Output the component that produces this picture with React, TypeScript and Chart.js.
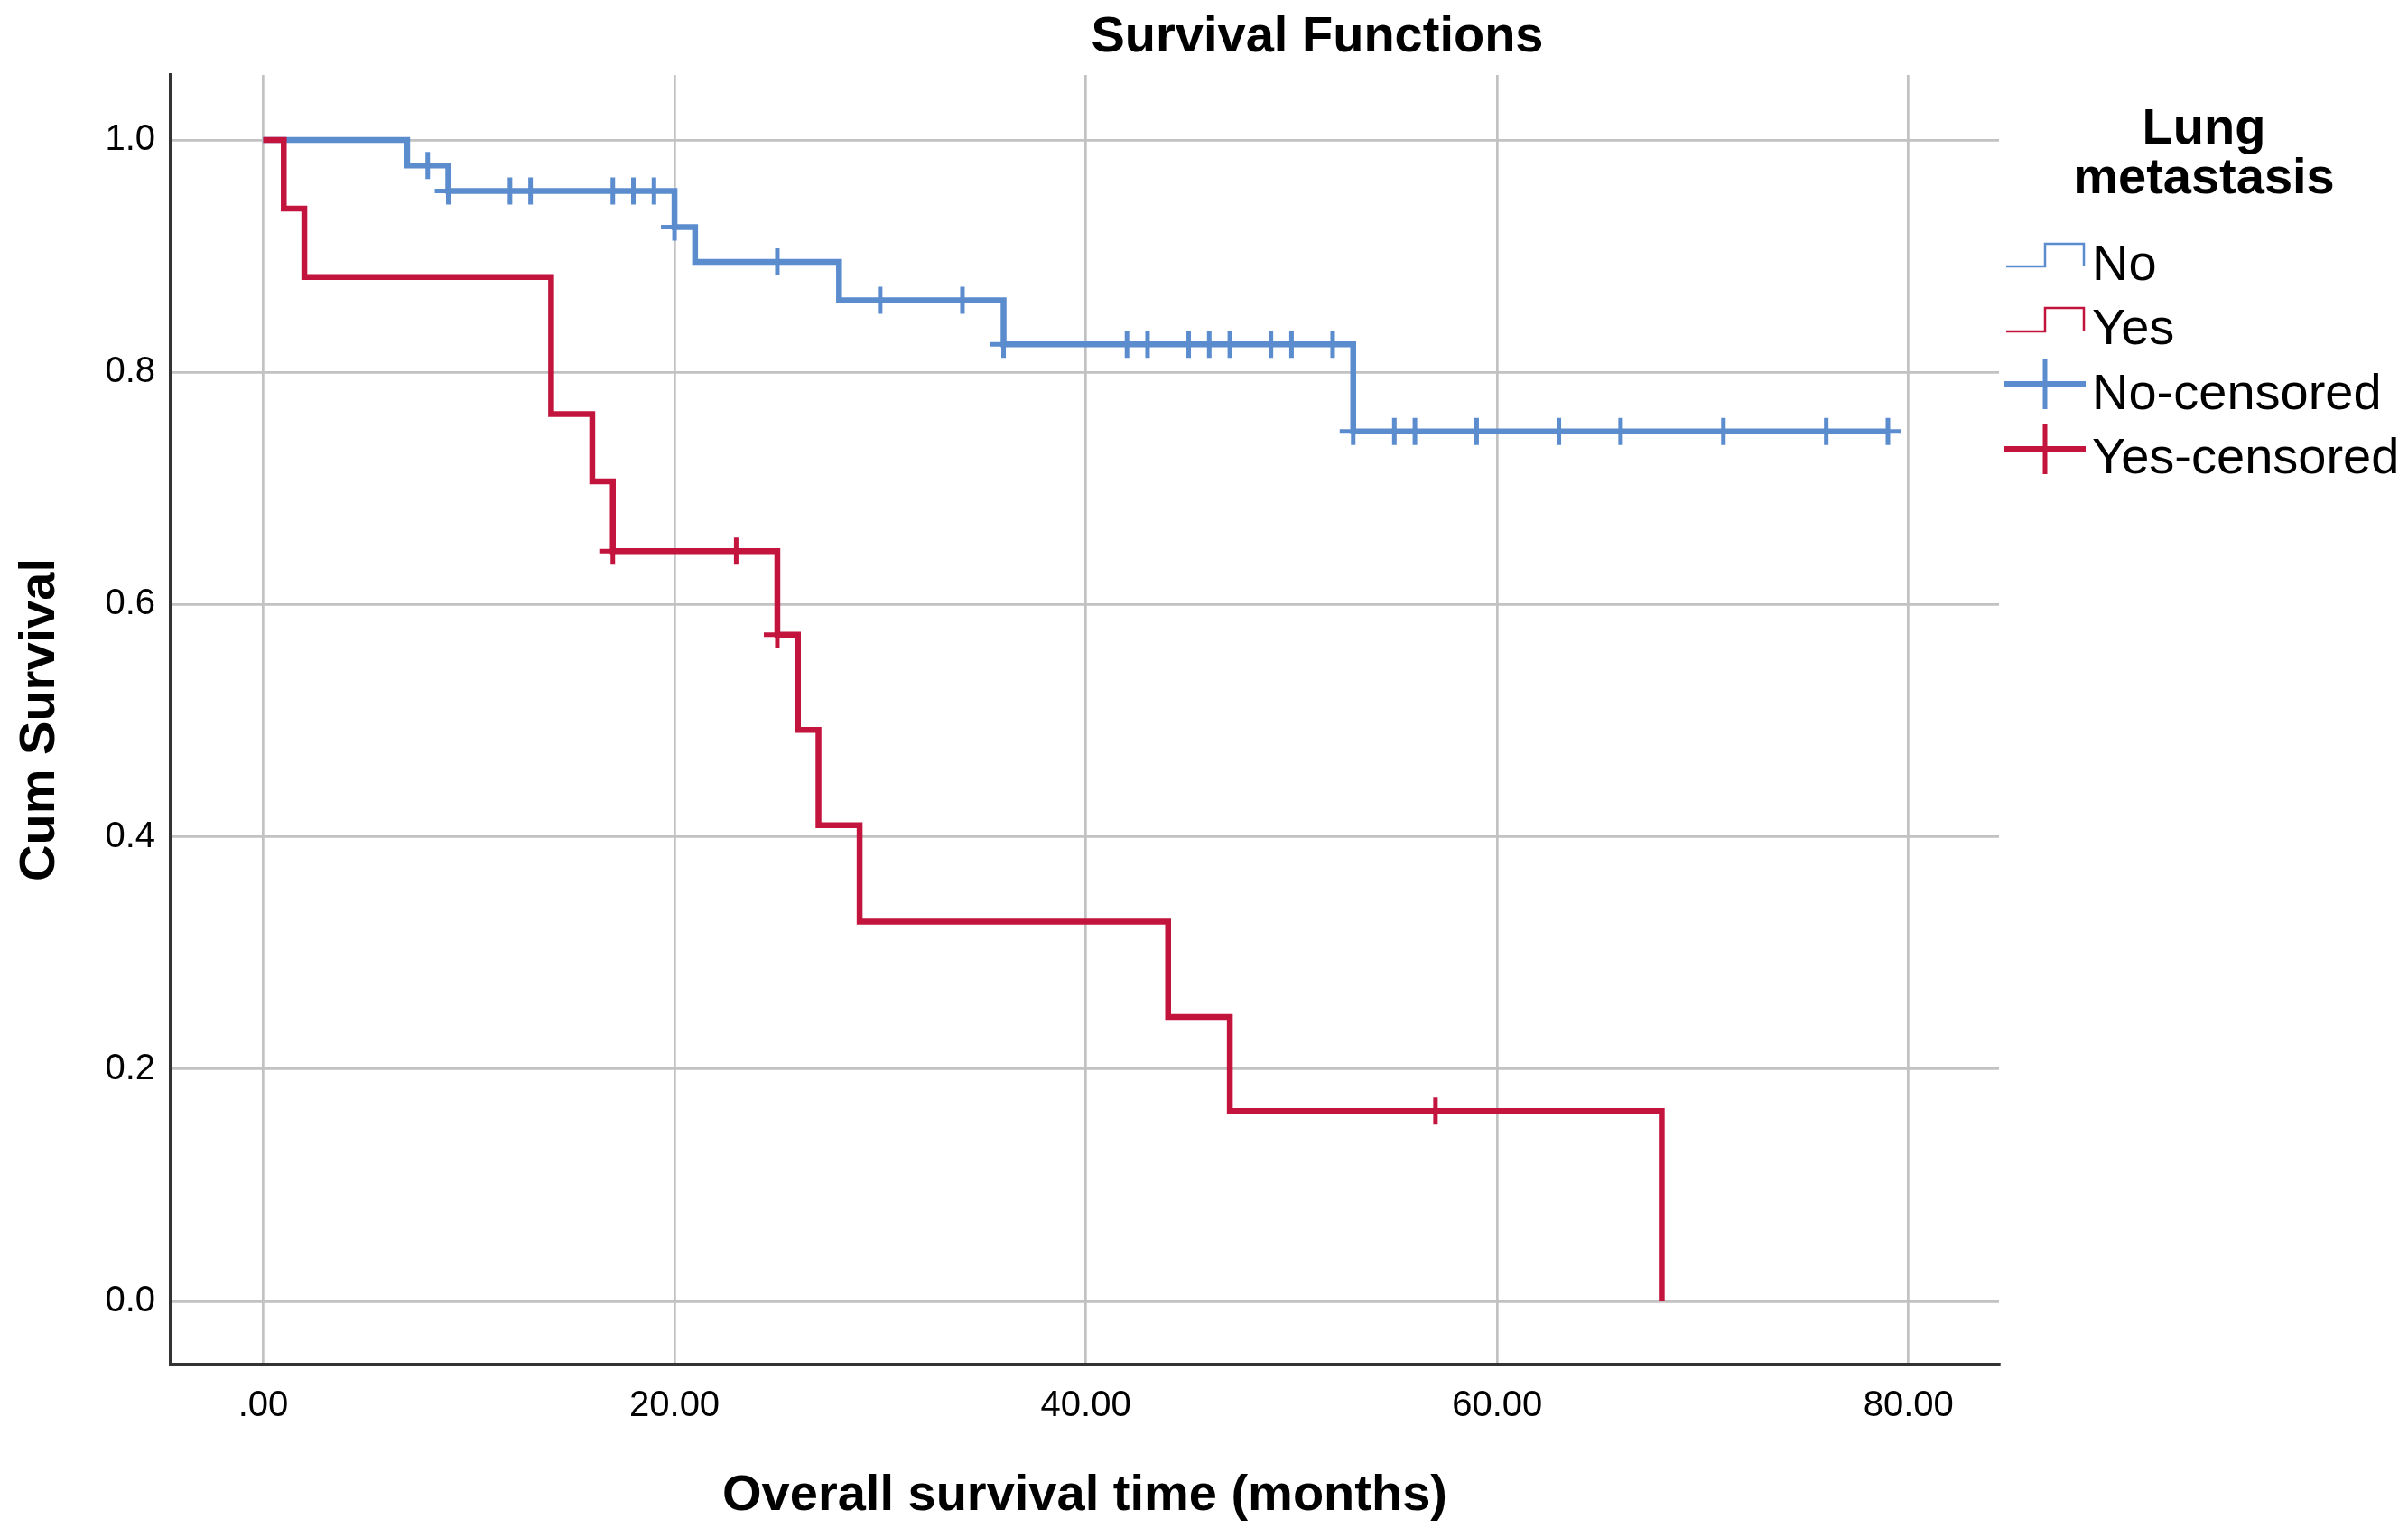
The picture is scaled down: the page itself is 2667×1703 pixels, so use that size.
import React, { useEffect, useRef } from "react";
import { Chart, registerables } from "chart.js";

Chart.register(...registerables);

// ---- data ----
const noTimes = [0, 7, 9, 20, 21, 28, 36, 53, 79];
const noSurv = [1, 0.978, 0.956, 0.925, 0.895, 0.862, 0.824, 0.749, 0.749];

const yesTimes = [0, 1, 2, 14, 16, 17, 25, 26, 27, 29, 44, 47, 68];
const yesSurv = [1, 0.941, 0.882, 0.764, 0.706, 0.646, 0.574, 0.492, 0.41, 0.327, 0.245, 0.164, 0];

const noCensTimes = [8, 9, 12, 13, 17, 18, 19, 20, 25, 30, 34, 36, 42, 43, 45, 46, 47, 49, 50, 52, 53, 55, 56, 59, 63, 66, 71, 76, 79];
const noCensSurv = [
  0.978, 0.956, 0.956, 0.956, 0.956, 0.956, 0.956, 0.925, 0.895, 0.862, 0.862,
  0.824, 0.824, 0.824, 0.824, 0.824, 0.824, 0.824, 0.824, 0.824,
  0.749, 0.749, 0.749, 0.749, 0.749, 0.749, 0.749, 0.749, 0.749,
];

const yesCensTimes = [17, 23, 25, 57];
const yesCensSurv = [0.646, 0.646, 0.574, 0.164];

const xTicks = [0, 20, 40, 60, 80];
const xTickLabels = [".00", "20.00", "40.00", "60.00", "80.00"];
const yTicks = [0, 0.2, 0.4, 0.6, 0.8, 1.0];
const yTickLabels = ["0.0", "0.2", "0.4", "0.6", "0.8", "1.0"];

const chartTitle = "Survival Functions";
const xTitle = "Overall survival time (months)";
const yTitle = "Cum Survival";
const legendTitle = ["Lung", "metastasis"];
const legendLabels = ["No", "Yes", "No-censored", "Yes-censored"];

const BLUE = "#5b8cce";
const RED = "#c2143c";
const FONT = '"Liberation Sans", Arial, Helvetica, sans-serif';

const W = 2667;
const H = 1703;

function pts(xs: number[], ys: number[]) {
  return xs.map((x, i) => ({ x, y: ys[i] }));
}

const textPlugin = {
  id: "textPlugin",
  afterDraw(chart: any) {
    const ctx = chart.ctx as CanvasRenderingContext2D;
    ctx.save();
    ctx.fillStyle = "#000";
    ctx.textAlign = "center";
    ctx.textBaseline = "alphabetic";

    // main title
    ctx.font = `bold 56px ${FONT}`;
    ctx.fillText(chartTitle, 1459, 57);

    // x title
    ctx.font = `bold 56px ${FONT}`;
    const ca = chart.chartArea;
    ctx.fillText(xTitle, (ca.left + ca.right) / 2, 1672);

    // y title
    ctx.save();
    ctx.translate(60, (ca.top + ca.bottom) / 2);
    ctx.rotate(-Math.PI / 2);
    ctx.fillText(yTitle, 0, 0);
    ctx.restore();

    // legend title
    ctx.font = `bold 56px ${FONT}`;
    ctx.fillText(legendTitle[0], 2441, 159);
    ctx.fillText(legendTitle[1], 2441, 214);

    // legend labels
    ctx.textAlign = "left";
    ctx.font = `56px ${FONT}`;
    const baselines = [310, 381, 453, 524];
    legendLabels.forEach((t, i) => ctx.fillText(t, 2317, baselines[i]));

    // legend symbols: steps
    const step = (color: string, low: number, high: number) => {
      ctx.beginPath();
      ctx.strokeStyle = color;
      ctx.lineWidth = 2.5;
      ctx.moveTo(2222, low);
      ctx.lineTo(2265, low);
      ctx.lineTo(2265, high);
      ctx.lineTo(2308, high);
      ctx.lineTo(2308, low);
      ctx.stroke();
    };
    step(BLUE, 295, 270);
    step(RED, 367, 341);

    const plus = (color: string, cy: number) => {
      ctx.strokeStyle = color;
      ctx.lineWidth = 6;
      ctx.beginPath();
      ctx.moveTo(2220, cy);
      ctx.lineTo(2310, cy);
      ctx.stroke();
      ctx.lineWidth = 5;
      ctx.beginPath();
      ctx.moveTo(2265, cy - 27);
      ctx.lineTo(2265, cy + 28);
      ctx.stroke();
    };
    plus(BLUE, 425);
    plus(RED, 497);

    ctx.restore();
  },
};

export default function App() {
  const ref = useRef<HTMLCanvasElement | null>(null);

  useEffect(() => {
    if (!ref.current) return;
    const chart = new Chart(ref.current, {
      type: "line",
      data: {
        datasets: [
          {
            label: "Yes-censored",
            data: pts(yesCensTimes, yesCensSurv),
            showLine: false,
            pointStyle: "cross",
            pointRadius: 15,
            pointBorderWidth: 5,
            borderColor: RED,
            backgroundColor: RED,
          },
          {
            label: "Yes",
            data: pts(yesTimes, yesSurv),
            stepped: "before",
            borderColor: RED,
            borderWidth: 6.5,
            pointRadius: 0,
            fill: false,
            borderCapStyle: "butt",
            borderJoinStyle: "miter",
          },
          {
            label: "No-censored",
            data: pts(noCensTimes, noCensSurv),
            showLine: false,
            pointStyle: "cross",
            pointRadius: 15,
            pointBorderWidth: 5,
            borderColor: BLUE,
            backgroundColor: BLUE,
          },
          {
            label: "No",
            data: pts(noTimes, noSurv),
            stepped: "before",
            borderColor: BLUE,
            borderWidth: 6.5,
            pointRadius: 0,
            fill: false,
            borderCapStyle: "butt",
            borderJoinStyle: "miter",
          },
        ] as any,
      },
      options: {
        responsive: false,
        devicePixelRatio: 1,
        animation: false,
        layout: { padding: { top: 83, right: 453, left: 0, bottom: 0 } },
        plugins: {
          legend: { display: false },
          title: { display: false },
          tooltip: { enabled: false },
        },
        scales: {
          x: {
            type: "linear",
            min: -4.5,
            max: 84.4,
            afterBuildTicks: (s: any) => {
              s.ticks = xTicks.map((v) => ({ value: v }));
            },
            afterFit: (s: any) => {
              s.height = H - 1511;
            },
            grid: { color: "#c2c2c2", lineWidth: 2.7, drawTicks: false },
            border: { display: true, color: "#333", width: 3.5 },
            ticks: {
              autoSkip: false,
              maxRotation: 0,
              padding: 22,
              color: "#000",
              font: { family: FONT, size: 40 },
              callback: (_v: any, i: number) => xTickLabels[i],
            },
          },
          y: {
            type: "linear",
            min: -0.0544,
            max: 1.056,
            afterBuildTicks: (s: any) => {
              s.ticks = yTicks.map((v) => ({ value: v }));
            },
            afterFit: (s: any) => {
              s.width = 189;
            },
            grid: { color: "#c2c2c2", lineWidth: 2.7, drawTicks: false },
            border: { display: true, color: "#333", width: 3.5 },
            ticks: {
              autoSkip: false,
              padding: 17,
              color: "#000",
              font: { family: FONT, size: 40 },
              callback: (_v: any, i: number) => yTickLabels[i],
            },
          },
        },
      } as any,
      plugins: [textPlugin],
    });
    return () => chart.destroy();
  }, []);

  return (
    <div style={{ position: "absolute", left: 0, top: 0, width: W, height: H, background: "#fff" }}>
      <canvas ref={ref} width={W} height={H} style={{ display: "block", width: W, height: H }} />
    </div>
  );
}
